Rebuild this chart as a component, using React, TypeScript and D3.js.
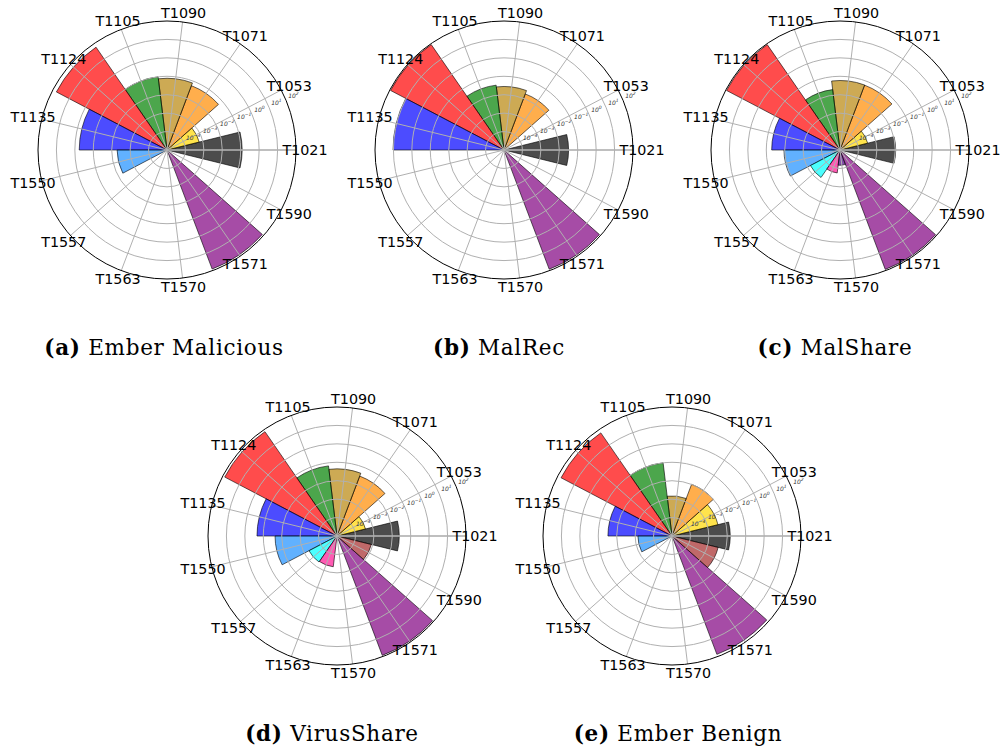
import React from "react";
import * as d3 from "d3";

// technique ids, counter-clockwise from 3 o'clock
const categories = [
  "T1021", "T1053", "T1071", "T1090", "T1105", "T1124", "T1135",
  "T1550", "T1557", "T1563", "T1570", "T1571", "T1590",
];
const barColors = [
  "black", "gold", "darkorange", "darkgoldenrod", "green", "red", "blue",
  "dodgerblue", "cyan", "deeppink", "indigo", "purple", "brown",
];
const radialTicks = [1e-4, 1e-3, 1e-2, 1e-1, 1e0, 1e1, 1e2];
const tickExponents = ["−4", "−3", "−2", "−1", "0", "1", "2"];

// 0 = technique not observed
const emberMalicious = [0.12, 6.3e-4, 0.054, 0.078, 0.1, 60, 0.58, 0.0051, 0, 0, 0, 81, 0];
const malRec = [0.032, 0, 0.018, 0.028, 0.035, 89, 10.5, 0, 0, 0, 0, 83, 0];
const malShare = [0.0105, 3.5e-4, 0.058, 0.059, 0.02, 89, 0.051, 0.011, 6.5e-4, 1.8e-4, 6.8e-5, 85, 0];
const virusShare = [0.024, 3.9e-4, 0.03, 0.044, 0.068, 76, 0.22, 0.023, 5.2e-4, 4.8e-4, 0, 85, 8.3e-4];
const emberBenign = [0.0145, 0.0037, 0.01, 0.0015, 0.1, 63, 0.03, 7.1e-4, 0, 0, 0, 74, 0.0038];

const panels = [
  { tag: "(a)", name: "Ember Malicious", values: emberMalicious, cx: 167, cy: 150, capX: 164 },
  { tag: "(b)", name: "MalRec", values: malRec, cx: 504, cy: 150, capX: 499 },
  { tag: "(c)", name: "MalShare", values: malShare, cx: 840, cy: 150, capX: 835 },
  { tag: "(d)", name: "VirusShare", values: virusShare, cx: 337, cy: 536, capX: 332 },
  { tag: "(e)", name: "Ember Benign", values: emberBenign, cx: 672, cy: 536, capX: 678 },
];

const R = 129;

function PolarPanel({ values, cx, cy }: { values: number[]; cx: number; cy: number }) {
  const r = d3.scaleLog().domain([1e-5, 1e2]).range([0, R]);
  const step = (2 * Math.PI) / categories.length;
  const arc = d3.arc<any>();
  const lblAng = (22.5 * Math.PI) / 180;

  return (
    <g transform={`translate(${cx},${cy})`}>
      {/* bars */}
      {values.map((v, i) => {
        if (!v) return null;
        const theta = i * step;
        const d = arc({
          innerRadius: 0,
          outerRadius: r(v),
          startAngle: Math.PI / 2 - (theta + step / 2),
          endAngle: Math.PI / 2 - (theta - step / 2),
        });
        return (
          <path
            key={i}
            d={d || ""}
            fill={barColors[i]}
            fillOpacity={0.7}
            stroke="black"
            strokeOpacity={0.6}
            strokeWidth={1}
          />
        );
      })}
      {/* grid */}
      {radialTicks.slice(0, -1).map((t) => (
        <circle key={t} r={r(t)} fill="none" stroke="#b0b0b0" strokeWidth={1} />
      ))}
      {categories.map((c, i) => {
        const theta = i * step;
        return (
          <line
            key={c}
            x1={0}
            y1={0}
            x2={R * Math.cos(theta)}
            y2={-R * Math.sin(theta)}
            stroke="#b0b0b0"
            strokeWidth={i === 0 ? 1.8 : 1}
            opacity={i === 0 ? 0.8 : 1}
          />
        );
      })}
      <circle r={R} fill="none" stroke="black" strokeWidth={1} />
      {/* radial tick labels */}
      {radialTicks.map((t, k) => {
        const rr = r(t);
        const x = rr * Math.cos(lblAng) + 2;
        const y = -rr * Math.sin(lblAng) - 3;
        return (
          <text
            key={t}
            x={x}
            y={y}
            fontFamily="DejaVu Sans"
            fontSize={6}
            fill="#333"
            fontStyle="italic"
          >
            10
            <tspan dy={-3} fontSize={4.5}>
              {tickExponents[k]}
            </tspan>
          </text>
        );
      })}
      {/* category labels */}
      {categories.map((c, i) => {
        const theta = i * step;
        const lr = R + 9;
        return (
          <text
            key={c}
            x={lr * Math.cos(theta)}
            y={-lr * Math.sin(theta)}
            textAnchor="middle"
            dominantBaseline="central"
            fontFamily="DejaVu Sans"
            fontSize={14.3}
            fill="black"
          >
            {c}
          </text>
        );
      })}
    </g>
  );
}

export default function App() {
  return (
    <svg
      width={1002}
      height={751}
      style={{ position: "absolute", left: 0, top: 0, background: "white" }}
    >
      <rect width={1002} height={751} fill="white" />
      {panels.map((p) => (
        <g key={p.tag}>
          <PolarPanel values={p.values} cx={p.cx} cy={p.cy} />
          <text
            x={p.capX}
            y={p.cy + 205}
            textAnchor="middle"
            fontFamily="DejaVu Serif"
            fontSize={21.5}
            letterSpacing={0.7}
            fill="black"
          >
            <tspan fontWeight="bold">{p.tag}</tspan>
            <tspan> {p.name}</tspan>
          </text>
        </g>
      ))}
    </svg>
  );
}
